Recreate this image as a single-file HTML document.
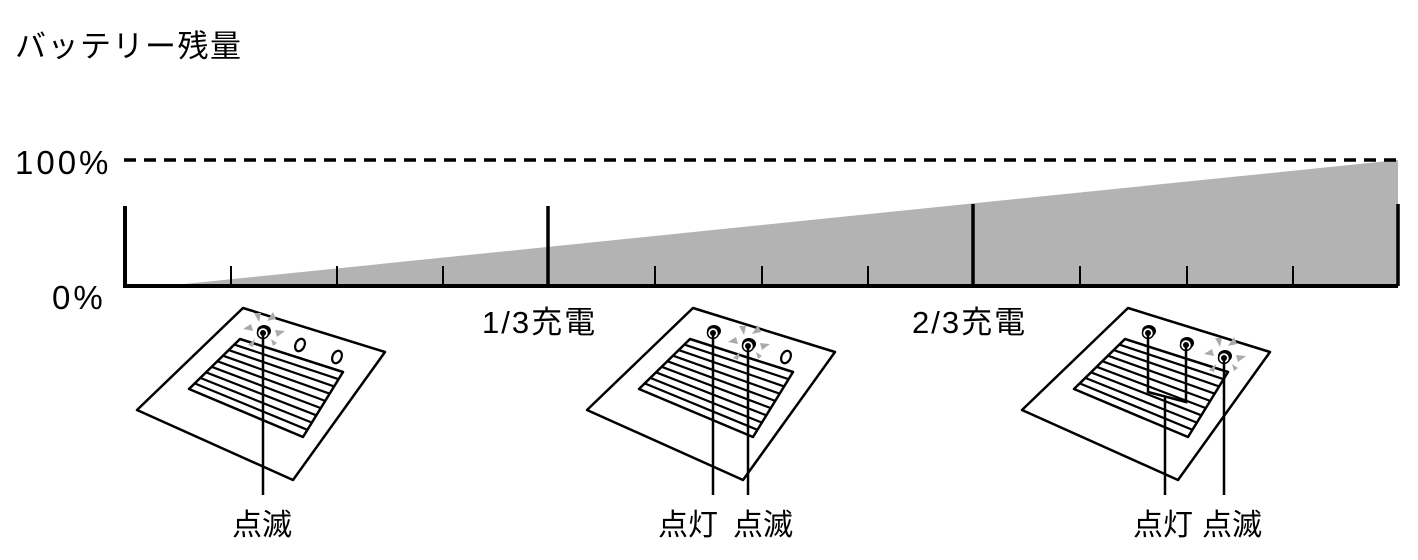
<!DOCTYPE html>
<html><head><meta charset="utf-8"><style>
html,body{margin:0;padding:0;background:#fff;}
svg text{font-family:"Liberation Sans","Noto Sans CJK JP",sans-serif;fill:#000;}
</style></head><body>
<svg width="1418" height="555" viewBox="0 0 1418 555" xmlns="http://www.w3.org/2000/svg">
<defs>
<g id="dev" fill="none" stroke="#000">
  <polygon points="243,308 385,352 293,480 137,410" stroke-width="2.5" fill="#fff" stroke-linejoin="round"/>
  <polygon points="240,339 343,372 303,437 189,389" stroke-width="2.5" stroke-linejoin="round" fill="#fff"/>
  <g stroke-width="2.2">
    <line x1="234.3" y1="344.6" x2="338.6" y2="379.2"/>
    <line x1="228.7" y1="350.1" x2="334.1" y2="386.4"/>
    <line x1="223" y1="355.7" x2="329.7" y2="393.7"/>
    <line x1="217.3" y1="361.2" x2="325.2" y2="400.9"/>
    <line x1="211.7" y1="366.8" x2="320.8" y2="408.1"/>
    <line x1="206" y1="372.3" x2="316.3" y2="415.3"/>
    <line x1="200.3" y1="377.9" x2="311.9" y2="422.6"/>
    <line x1="194.7" y1="383.4" x2="307.4" y2="429.8"/>
  </g>
</g>
<g id="oval"><ellipse cx="0" cy="0" rx="4.5" ry="6.5" transform="rotate(25)" fill="#fff" stroke="#000" stroke-width="2.2"/></g>
<g id="led"><ellipse cx="1" cy="-2" rx="7" ry="6" fill="#000"/><circle cx="0" cy="0" r="5.5" fill="#fff" stroke="#000" stroke-width="1.5"/><circle cx="0" cy="0" r="3" fill="#000"/></g>
<g id="blink" fill="#aaa">
  <polygon points="-20,-4 -10,-2 -12,-9"/>
  <polygon points="-9,-20 -4,-11 -2,-20"/>
  <polygon points="10,-21 4,-12 13,-14"/>
  <polygon points="22,-2 12,-3 14,4"/>
  <polygon points="-15,12 -8,6 -10,14"/>
  <polygon points="14,10 8,6 10,13"/>
</g>
</defs>

<text x="15" y="57" font-size="31" letter-spacing="1.5">バッテリー残量</text>
<text x="15" y="174" font-size="33" letter-spacing="3">100%</text>
<text x="52" y="309" font-size="33" letter-spacing="3">0%</text>

<polygon points="165,286 1398,160 1398,286" fill="#b3b3b3"/>
<line x1="124" y1="160" x2="1398" y2="160" stroke="#000" stroke-width="3.5" stroke-dasharray="12,8"/>
<g stroke="#000" fill="none">
  <polyline points="125,206 125,286 1398,286" stroke-width="4"/>
  <line x1="548" y1="206" x2="548" y2="286" stroke-width="3.5"/>
  <line x1="973" y1="204" x2="973" y2="286" stroke-width="3.5"/>
  <line x1="1398" y1="204" x2="1398" y2="286" stroke-width="3.5"/>
  <g stroke-width="2">
    <line x1="231" y1="266" x2="231" y2="286"/><line x1="337" y1="266" x2="337" y2="286"/><line x1="443" y1="266" x2="443" y2="286"/>
    <line x1="655" y1="266" x2="655" y2="286"/><line x1="762" y1="266" x2="762" y2="286"/><line x1="868" y1="266" x2="868" y2="286"/>
    <line x1="1080" y1="266" x2="1080" y2="286"/><line x1="1187" y1="266" x2="1187" y2="286"/><line x1="1293" y1="266" x2="1293" y2="286"/>
  </g>
</g>
<text x="482" y="333" font-size="31" letter-spacing="2">1/3充電</text>
<text x="912" y="333" font-size="31" letter-spacing="2">2/3充電</text>

<!-- device 1 -->
<use href="#dev"/>
<use href="#oval" x="300" y="345"/><use href="#oval" x="337" y="357"/>
<use href="#blink" x="263" y="333"/><use href="#led" x="263" y="333"/>
<line x1="263" y1="334" x2="263" y2="495" stroke="#000" stroke-width="2.5"/>
<text x="262" y="535" font-size="30" text-anchor="middle">点滅</text>

<!-- device 2 -->
<use href="#dev" x="450"/>
<use href="#oval" x="786" y="357"/>
<use href="#led" x="713" y="333"/>
<use href="#blink" x="748" y="346"/><use href="#led" x="748" y="346"/>
<line x1="713" y1="334" x2="713" y2="495" stroke="#000" stroke-width="2.5"/>
<line x1="748" y1="347" x2="748" y2="495" stroke="#000" stroke-width="2.5"/>
<text x="688" y="535" font-size="30" text-anchor="middle">点灯</text>
<text x="763" y="535" font-size="30" text-anchor="middle">点滅</text>

<!-- device 3 -->
<use href="#dev" x="885"/>
<use href="#led" x="1148" y="333"/><use href="#led" x="1186" y="345"/>
<use href="#blink" x="1224" y="358"/><use href="#led" x="1224" y="358"/>
<g stroke="#000" stroke-width="2.5" fill="none">
  <polyline points="1148,334 1148,392 1186,402 1186,346"/>
  <line x1="1165" y1="396" x2="1165" y2="495"/>
  <line x1="1224" y1="359" x2="1224" y2="495"/>
</g>
<text x="1163" y="535" font-size="30" text-anchor="middle">点灯</text>
<text x="1232" y="535" font-size="30" text-anchor="middle">点滅</text>
</svg>
</body></html>
